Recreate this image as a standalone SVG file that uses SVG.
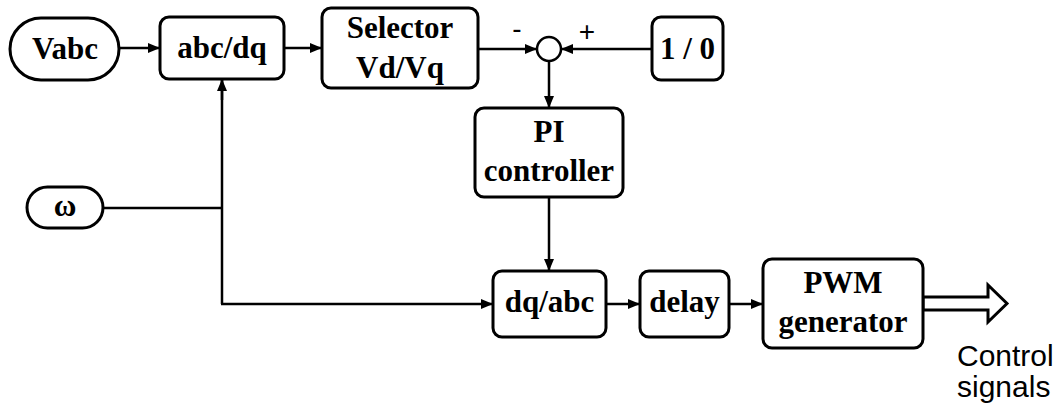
<svg xmlns="http://www.w3.org/2000/svg" width="1063" height="412" viewBox="0 0 1063 412">
<style>
.box{fill:#fff;stroke:#000;stroke-width:3}
.wire{fill:none;stroke:#000;stroke-width:2.5}
</style>
<defs>
<marker id="ah" markerWidth="12" markerHeight="10" refX="11" refY="5" orient="auto" markerUnits="userSpaceOnUse">
<path d="M0,0 L12,5 L0,10 Z" fill="#000"/>
</marker>
</defs>
<rect width="1063" height="412" fill="#fff"/>
<g id="connectors">
<line class="wire" x1="119" y1="48" x2="159" y2="48" marker-end="url(#ah)"/>
<line class="wire" x1="284" y1="48" x2="321" y2="48" marker-end="url(#ah)"/>
<line class="wire" x1="478" y1="49" x2="536" y2="49" marker-end="url(#ah)"/>
<line class="wire" x1="652" y1="49" x2="562" y2="49" marker-end="url(#ah)"/>
<line class="wire" x1="549" y1="61" x2="549" y2="107" marker-end="url(#ah)"/>
<line class="wire" x1="549" y1="197" x2="549" y2="270" marker-end="url(#ah)"/>
<line class="wire" x1="103" y1="208" x2="222" y2="208"/>
<polyline class="wire" points="222,304 222,80"/>
<line class="wire" x1="222" y1="100" x2="222" y2="80" marker-end="url(#ah)"/>
<line class="wire" x1="221" y1="304" x2="492" y2="304" marker-end="url(#ah)"/>
<line class="wire" x1="606" y1="304" x2="639" y2="304" marker-end="url(#ah)"/>
<line class="wire" x1="729" y1="304" x2="762" y2="304" marker-end="url(#ah)"/>
<polygon points="923,297 988,297 988,285 1007,303.5 988,322 988,310 923,310" fill="#fff" stroke="#000" stroke-width="3" stroke-linejoin="miter"/>
</g>
<g id="vabc">
<rect class="box" x="10" y="18" width="109" height="62" rx="31"/>
<text x="65" y="59" font-family="Liberation Serif" font-weight="bold" font-size="31" text-anchor="middle" style="font-family:'Liberation Serif',serif;font-weight:bold">Vabc</text>
</g>
<g id="abcdq">
<rect class="box" x="160" y="17" width="124" height="62" rx="9"/>
<text x="222" y="58" font-family="Liberation Serif" font-weight="bold" font-size="31" text-anchor="middle" style="font-family:'Liberation Serif',serif;font-weight:bold">abc/dq</text>
</g>
<g id="selector">
<rect class="box" x="322" y="8" width="156" height="80" rx="9"/>
<text x="400" y="38" font-family="Liberation Serif" font-weight="bold" font-size="31" text-anchor="middle" style="font-family:'Liberation Serif',serif;font-weight:bold">Selector</text>
<text x="400" y="78" font-family="Liberation Serif" font-weight="bold" font-size="31" text-anchor="middle" style="font-family:'Liberation Serif',serif;font-weight:bold">Vd/Vq</text>
</g>
<g id="sum">
<circle cx="549" cy="49" r="12" fill="#fff" stroke="#000" stroke-width="2.5"/>
<text x="517" y="38" text-anchor="middle" font-size="28" font-family="Liberation Sans">-</text>
<text x="587" y="41" text-anchor="middle" font-size="28" font-family="Liberation Sans">+</text>
</g>
<g id="onezero">
<rect class="box" x="652" y="17" width="71" height="63" rx="9"/>
<text x="687.5" y="59" font-family="Liberation Serif" font-weight="bold" font-size="31" text-anchor="middle" style="font-family:'Liberation Serif',serif;font-weight:bold">1 / 0</text>
</g>
<g id="pi">
<rect class="box" x="475" y="108" width="148" height="89" rx="9"/>
<text x="549" y="142" font-family="Liberation Serif" font-weight="bold" font-size="31" text-anchor="middle" style="font-family:'Liberation Serif',serif;font-weight:bold">PI</text>
<text x="549" y="181" font-family="Liberation Serif" font-weight="bold" font-size="31" text-anchor="middle" style="font-family:'Liberation Serif',serif;font-weight:bold">controller</text>
</g>
<g id="omega">
<rect class="box" x="27" y="187" width="76" height="41" rx="20.5"/>
<text x="65" y="216" font-family="Liberation Serif" font-weight="bold" font-size="31" text-anchor="middle" style="font-family:'Liberation Serif',serif;font-weight:bold">ω</text>
</g>
<g id="dqabc">
<rect class="box" x="493" y="271" width="113" height="66" rx="9"/>
<text x="549.5" y="312" font-family="Liberation Serif" font-weight="bold" font-size="31" text-anchor="middle" style="font-family:'Liberation Serif',serif;font-weight:bold">dq/abc</text>
</g>
<g id="delay">
<rect class="box" x="640" y="271" width="89" height="66" rx="9"/>
<text x="684.5" y="312" font-family="Liberation Serif" font-weight="bold" font-size="31" text-anchor="middle" style="font-family:'Liberation Serif',serif;font-weight:bold">delay</text>
</g>
<g id="pwm">
<rect class="box" x="763" y="259" width="160" height="89" rx="9"/>
<text x="843" y="293" font-family="Liberation Serif" font-weight="bold" font-size="31" text-anchor="middle" style="font-family:'Liberation Serif',serif;font-weight:bold">PWM</text>
<text x="843" y="332" font-family="Liberation Serif" font-weight="bold" font-size="31" text-anchor="middle" style="font-family:'Liberation Serif',serif;font-weight:bold">generator</text>
</g>
<g id="output-label">
<text x="957" y="366" font-size="30" font-family="Liberation Sans">Control</text>
<text x="957" y="397" font-size="30" font-family="Liberation Sans">signals</text>
</g>
</svg>
